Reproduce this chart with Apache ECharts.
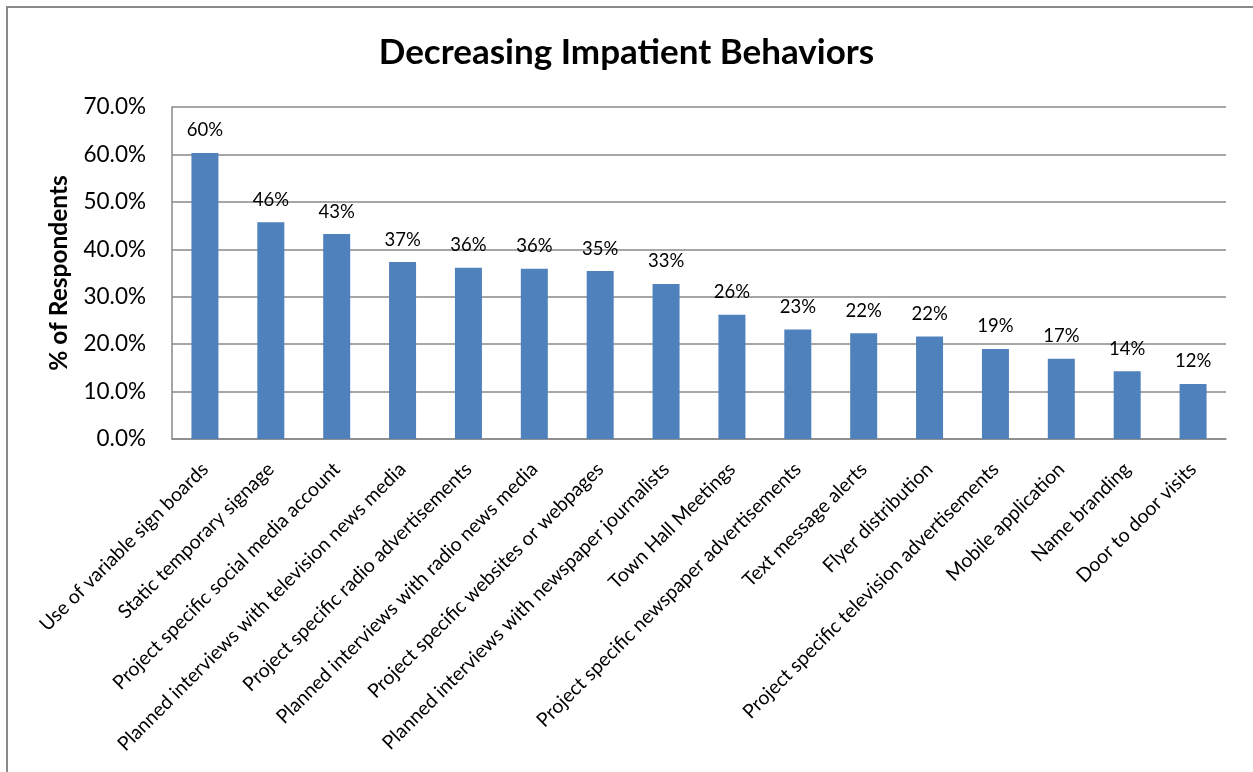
<!DOCTYPE html>
<html>
<head>
<meta charset="utf-8">
<script src="https://cdn.jsdelivr.net/npm/echarts@6/dist/echarts.min.js"></script>
<style>
  html, body { margin: 0; padding: 0; background: #fff; }
  #chart { width: 1253px; height: 772px; }
</style>
</head>
<body>
<div id="chart"></div>
<script>
  // categories and % of respondents
  const behaviors = [
    'Use of variable sign boards',
    'Static temporary signage',
    'Project specific social media account',
    'Planned interviews with television news media',
    'Project specific radio advertisements',
    'Planned interviews with radio news media',
    'Project specific websites or webpages',
    'Planned interviews with newspaper journalists',
    'Town Hall Meetings',
    'Project specific newspaper advertisements',
    'Text message alerts',
    'Flyer distribution',
    'Project specific television advertisements',
    'Mobile application',
    'Name branding',
    'Door to door visits'
  ]
  const respondents = [60.3, 45.7, 43.2, 37.3, 36.1, 35.9, 35.4, 32.7, 26.2, 23.1, 22.3, 21.6, 19.0, 16.9, 14.3, 11.6]
  const yTicks = [0, 10, 20, 30, 40, 50, 60, 70]

  const font = 'Lato, "Open Sans", sans-serif'
  const gridColor = '#888888'

  const chart = echarts.init(document.getElementById('chart'))
  chart.setOption({
    animation: false,
    textStyle: { fontFamily: font },
    title: {
      text: 'Decreasing Impatient Behaviors',
      left: 'center',
      top: 30,
      padding: [5, 0, 5, 9],
      textStyle: { fontFamily: font, fontSize: 35, fontWeight: 'bold', color: '#000' }
    },
    graphic: [{
      type: 'rect',
      shape: { x: 7, y: 7, width: 1400, height: 900 },
      style: { fill: 'none', stroke: '#8a8a8a', lineWidth: 2 },
      silent: true
    }],
    grid: { left: 172, right: 27, top: 107, bottom: 333 },
    xAxis: {
      type: 'category',
      data: behaviors,
      axisLine: { lineStyle: { color: gridColor, width: 1.5 } },
      axisTick: { show: false },
      axisLabel: {
        interval: 0,
        rotate: 45,
        margin: 27,
        fontSize: 19.5,
        color: '#000',
        fontFamily: font
      }
    },
    yAxis: {
      type: 'value',
      min: yTicks[0],
      max: yTicks[yTicks.length - 1],
      interval: 10,
      name: '% of Respondents',
      nameLocation: 'middle',
      nameRotate: 90,
      nameGap: 100,
      nameTextStyle: { fontSize: 24.5, fontWeight: 'bold', color: '#000', fontFamily: font },
      axisLine: { show: true, lineStyle: { color: gridColor, width: 1.5 } },
      axisTick: { show: false },
      splitLine: { lineStyle: { color: gridColor, width: 1.5 } },
      axisLabel: {
        margin: 26,
        fontSize: 22.5,
        color: '#000',
        fontFamily: font,
        formatter: v => v.toFixed(1) + '%'
      }
    },
    series: [{
      type: 'bar',
      data: respondents,
      barWidth: 27,
      itemStyle: { color: '#4f81bd' },
      label: {
        show: true,
        position: 'top',
        distance: 13,
        fontSize: 18.5,
        color: '#000',
        fontFamily: font,
        formatter: p => Math.round(p.value) + '%'
      }
    }]
  })
</script>
</body>
</html>
